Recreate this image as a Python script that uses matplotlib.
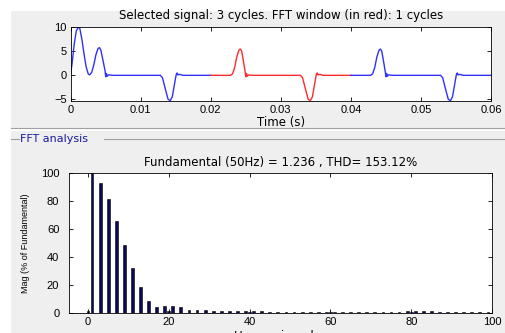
import matplotlib
matplotlib.use("Agg")
import matplotlib.pyplot as plt
from matplotlib.patches import Rectangle
from matplotlib.lines import Line2D

plt.rcParams['font.family'] = ['Liberation Sans', 'DejaVu Sans']

# ---- Signal data (time in s, value) ----
cycle1_t = [0.0000, 0.0002, 0.0005, 0.0008, 0.0011, 0.0013, 0.0016, 0.0019, 0.0022,
            0.0025, 0.0027, 0.0030, 0.0033, 0.0036, 0.0039, 0.0041, 0.0043, 0.0046,
            0.0049, 0.0050, 0.0051, 0.0052, 0.0054, 0.0060, 0.0128, 0.0131, 0.0135,
            0.0139, 0.0142, 0.0145, 0.0148, 0.0150, 0.0151, 0.0152, 0.0153, 0.0156,
            0.0160, 0.0200]
cycle1_v = [0.3, 2.5, 6.5, 9.3, 10.1, 9.8, 7.5, 4.5, 1.8,
            0.3, 0.1, 0.6, 2.2, 4.3, 5.6, 5.8, 5.3, 3.2,
            1.0, -0.3, 0.4, -0.2, 0.1, 0.0, 0.0, -0.5, -2.8,
            -5.0, -5.3, -4.5, -2.0, -0.3, 0.3, 0.5, 0.1, 0.2,
            0.0, 0.0]

cycle2_t = [0.0200, 0.0228, 0.0231, 0.0234, 0.0237, 0.0240, 0.0242, 0.0244, 0.0247,
            0.0249, 0.0250, 0.0251, 0.0252, 0.0254, 0.0260, 0.0328, 0.0331, 0.0335,
            0.0339, 0.0342, 0.0345, 0.0348, 0.0350, 0.0351, 0.0352, 0.0353, 0.0356,
            0.0360, 0.0400]
cycle2_v = [0.0, 0.0, 0.3, 1.6, 3.8, 5.2, 5.5, 5.1, 2.6,
            0.8, -0.3, 0.4, -0.2, 0.1, 0.0, 0.0, -0.5, -2.8,
            -5.0, -5.3, -4.5, -2.0, -0.3, 0.3, 0.5, 0.1, 0.2,
            0.0, 0.0]

cycle3_t = [0.0400, 0.0428, 0.0431, 0.0434, 0.0437, 0.0440, 0.0442, 0.0444, 0.0447,
            0.0449, 0.0450, 0.0451, 0.0452, 0.0454, 0.0460, 0.0528, 0.0531, 0.0535,
            0.0539, 0.0542, 0.0545, 0.0548, 0.0550, 0.0551, 0.0552, 0.0553, 0.0556,
            0.0560, 0.0600]
cycle3_v = [0.0, 0.0, 0.3, 1.6, 3.8, 5.2, 5.5, 5.1, 2.6,
            0.8, -0.3, 0.4, -0.2, 0.1, 0.0, 0.0, -0.5, -2.8,
            -5.0, -5.3, -4.5, -2.0, -0.3, 0.3, 0.5, 0.1, 0.2,
            0.0, 0.0]

time_ticks = [0, 0.01, 0.02, 0.03, 0.04, 0.05, 0.06]
time_labels = ['0', '0.01', '0.02', '0.03', '0.04', '0.05', '0.06']
sig_ticks = [-5, 0, 5, 10]

# ---- FFT data: harmonic order 0..100, % of fundamental ----
harmonic_order = list(range(0, 101))
harmonic_mag = [
    1.5, 100, 0.2, 92.4, 0.2, 81.0, 0.2, 65.7, 0.2, 48.8,      # 0-9
    0.2, 32.4, 0.2, 18.6, 0.2, 8.6, 0.3, 4.3, 0.3, 5.2,        # 10-19
    1.8, 5.2, 0.3, 4.3, 0.3, 2.6, 0.3, 2.2, 0.3, 2.2,          # 20-29
    0.3, 1.8, 0.3, 1.8, 0.3, 1.5, 0.3, 1.3, 0.3, 1.3,          # 30-39
    0.6, 1.3, 0.5, 1.3, 0.3, 1.2, 0.3, 1.0, 0.3, 1.2,          # 40-49
    0.3, 1.0, 0.3, 0.8, 0.3, 0.8, 0.3, 0.8, 0.5, 0.9,          # 50-59
    0.6, 0.8, 0.3, 0.7, 0.3, 0.7, 0.3, 0.7, 0.3, 0.8,          # 60-69
    0.3, 0.8, 0.3, 0.8, 0.3, 0.9, 0.3, 1.0, 0.4, 1.4,          # 70-79
    0.7, 1.5, 0.5, 1.3, 0.3, 1.4, 0.3, 1.2, 0.3, 1.2,          # 80-89
    0.3, 1.0, 0.3, 0.9, 0.3, 0.8, 0.3, 0.8, 0.3, 0.9,          # 90-99
    0.3]                                                       # 100
fft_xticks = [0, 20, 40, 60, 80, 100]
fft_yticks = [0, 20, 40, 60, 80, 100]

W, H = 505, 333
fig = plt.figure(figsize=(W / 100, H / 100), dpi=100)
fig.patch.set_facecolor('white')

def fx(px):
    return px / W

def fy(py):
    return 1 - py / H

bg = '#efefef'
fig.patches.append(Rectangle((fx(11), fy(128)), fx(W - 11), fy(11) - fy(128),
                             transform=fig.transFigure, facecolor=bg, edgecolor='none', zorder=-10))
fig.patches.append(Rectangle((fx(11), fy(H)), fx(W - 11), fy(131) - fy(H),
                             transform=fig.transFigure, facecolor=bg, edgecolor='none', zorder=-10))
fig.lines.append(Line2D([fx(11), 1], [fy(128), fy(128)], transform=fig.transFigure,
                        color='#a0a0a0', lw=0.8))
fig.lines.append(Line2D([fx(11), fx(19)], [fy(139), fy(139)], transform=fig.transFigure,
                        color='#a0a0a0', lw=0.8))
fig.lines.append(Line2D([fx(104), 1], [fy(139), fy(139)], transform=fig.transFigure,
                        color='#a0a0a0', lw=0.8))
fig.text(fx(20), fy(139), 'FFT analysis', color='#1a1aa0', fontsize=8,
         family='DejaVu Sans', ha='left', va='center')

title_font = dict(family='DejaVu Sans', fontsize=8.5)

# ---- top axes: signal ----
ax1 = fig.add_axes([fx(70.7), fy(100.7), fx(491) - fx(70.7), fy(27) - fy(100.7)])
ax1.plot(cycle1_t, cycle1_v, color='#3030ff', lw=1.0)
ax1.plot(cycle2_t, cycle2_v, color='#ff2a2a', lw=1.0)
ax1.plot(cycle3_t, cycle3_v, color='#3030ff', lw=1.0)
ax1.set_xlim(0, 0.06)
ax1.set_ylim(-5.3, 10.1)
ax1.set_xticks(time_ticks)
ax1.set_xticklabels(time_labels)
ax1.set_yticks(sig_ticks)
ax1.tick_params(direction='in', top=True, right=True, length=3, width=0.6,
                labelsize=8)
ax1.tick_params(axis='x', pad=3)
ax1.tick_params(axis='y', pad=3)
ax1.set_title('Selected signal: 3 cycles. FFT window (in red): 1 cycles',
              pad=6, **title_font)
ax1.set_xlabel('Time (s)', labelpad=1, **title_font)
for s in ax1.spines.values():
    s.set_linewidth(0.6)

# ---- bottom axes: FFT ----
ax2 = fig.add_axes([fx(69), fy(313.3), fx(492) - fx(69), fy(172.7) - fy(313.3)])
ax2.bar(harmonic_order, harmonic_mag, width=0.7, color='#0a0a55',
        edgecolor='black', linewidth=0.4)
ax2.set_xlim(-4.7, 100)
ax2.set_ylim(0, 100)
ax2.set_xticks(fft_xticks)
ax2.set_yticks(fft_yticks)
ax2.tick_params(direction='in', top=True, right=True, length=3, width=0.6,
                labelsize=8)
ax2.tick_params(axis='x', pad=3)
ax2.tick_params(axis='y', pad=7)
ax2.set_title('Fundamental (50Hz) = 1.236 , THD= 153.12%', pad=5, **title_font)
ax2.set_xlabel('Harmonic order', labelpad=2, **title_font)
ax2.set_ylabel('Mag (% of Fundamental)', fontsize=6.5, labelpad=8)
for s in ax2.spines.values():
    s.set_linewidth(0.6)

fig.savefig('out.png', dpi=100, facecolor=fig.get_facecolor())
